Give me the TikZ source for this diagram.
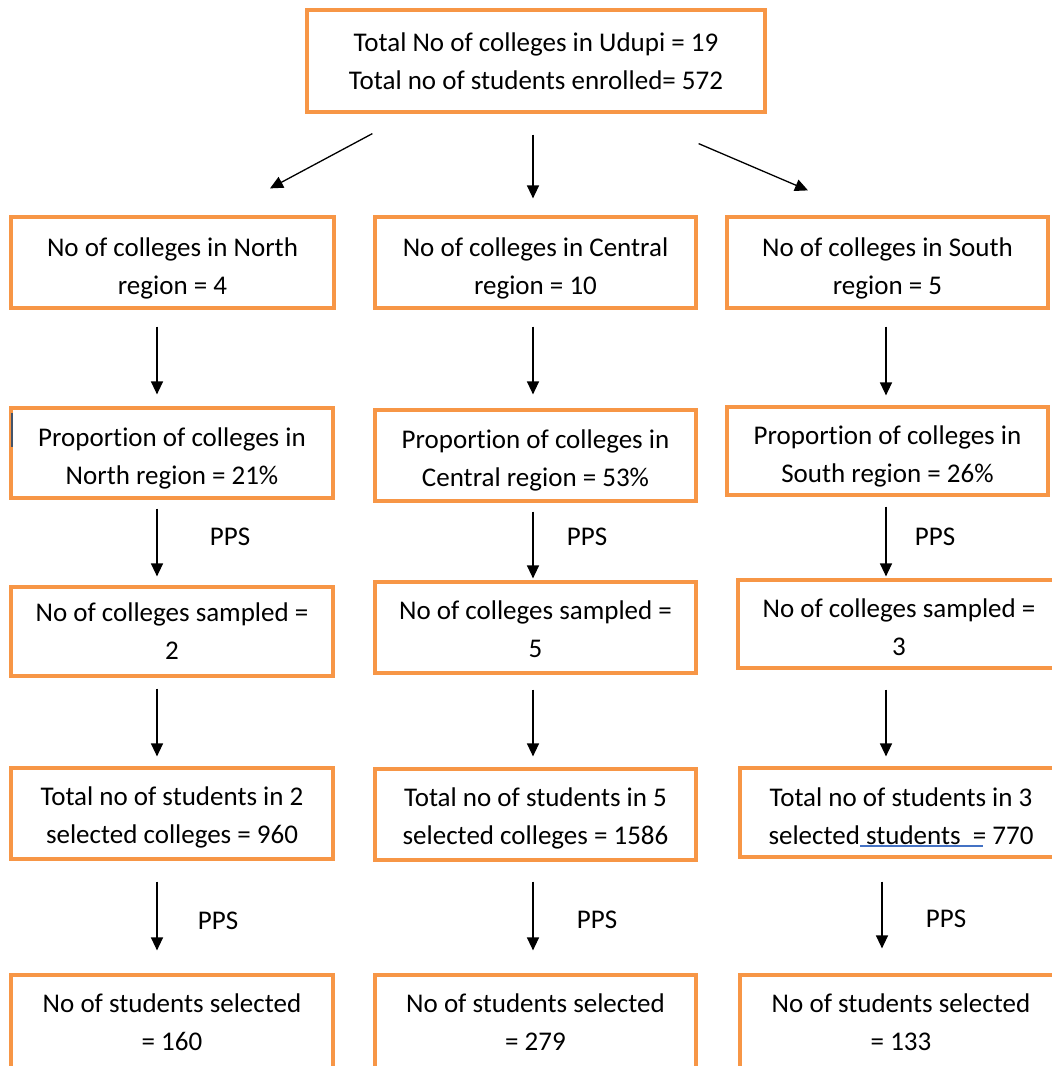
\documentclass[tikz,border=0pt]{standalone}
\usepackage{fontspec}
\setmainfont{Carlito}[Ligatures=NoCommon]
\usetikzlibrary{arrows.meta,calc}
\definecolor{boxor}{HTML}{F79646}
\definecolor{spell}{HTML}{4472C4}
\definecolor{cursor}{HTML}{44546A}
\newcommand\flowbox[7]{%
  \node[box, minimum width=#4pt, minimum height=#5pt] (#1) at (#2,#3) {};
  \node[txt] (#1-t) at ($(#1.center)+(0,#6)$) {#7};
}
\begin{document}
\begin{tikzpicture}[x=1pt,y=-1pt,
  box/.style={draw=boxor, line width=3.2pt, fill=white, inner sep=0pt},
  txt/.style={align=center, inner sep=0pt, font=\fontsize{27pt}{38pt}\selectfont, text=black},
  arr/.style={line width=1.3pt, -{Triangle[width=12pt,length=13pt]}},
  lbl/.style={font=\fontsize{27pt}{30pt}\selectfont, text=black, inner sep=0pt}]
\clip (0,0) rectangle (1052,1066);
\fill[white] (0,0) rectangle (1052,1066);
% top
\flowbox{T}{536}{61}{458}{102}{0}{Total No of colleges in Udupi = 19\\Total no of students enrolled= 572}
% row 1
\flowbox{N1}{172.5}{262.5}{323}{91}{6}{No of colleges in North\\region = 4}
\flowbox{C1}{535.5}{262.5}{321}{91}{6}{No of colleges in Central\\region = 10}
\flowbox{S1}{887.5}{262.5}{321}{91}{6}{No of colleges in South\\region = 5}
% row 2
\flowbox{N2}{172}{453}{322}{90}{5}{Proportion of colleges in\\North region = 21\%}
\flowbox{C2}{535.5}{455.5}{321}{91}{5}{Proportion of colleges in\\Central region = 53\%}
\flowbox{S2}{887.5}{451}{321}{88}{5}{Proportion of colleges in\\South region = 26\%}
% row 3
\flowbox{N3}{172}{631.5}{322}{89}{0}{No of colleges sampled =\\2}
\flowbox{C3}{535.5}{627.5}{321}{91}{2}{No of colleges sampled =\\5}
\flowbox{S3}{899}{624}{322}{88}{3}{No of colleges sampled =\\3}
% row 4
\flowbox{N4}{172}{813.5}{322}{91}{4}{Total no of students in 2\\selected colleges = 960}
\flowbox{C4}{535.5}{814.5}{321}{91}{4}{Total no of students in 5\\selected colleges = 1586}
\flowbox{S4}{901}{812.5}{322}{89}{4}{Total no of students in 3\\selected students\ \ = 770}
% row 5
\flowbox{N5}{172}{1021.5}{322}{93}{1}{No of students selected\\= 160}
\flowbox{C5}{535.5}{1021.5}{321}{93}{1}{No of students selected\\= 279}
\flowbox{S5}{901}{1021.5}{322}{93}{1}{No of students selected\\= 133}
% spell-check underline and cursor mark
\draw[spell, line width=1.4pt] (860,846) -- (983,846);
\draw[cursor, line width=1.2pt] (12,413) -- (12,447);
% arrow columns
\coordinate (xN) at (157,0);
\coordinate (xC) at (533,0);
\coordinate (xS) at (886,0);
\coordinate (xS2) at (882,0);
% top arrows
\coordinate (tl1) at ($(T.south west)+(67,20)$);
\coordinate (tl2) at ($(N1.north)+(97.5,-27)$);
\coordinate (tr1) at ($(T.south east)+(-68,30)$);
\coordinate (tr2) at ($(S1.north)+(-79.5,-25)$);
\draw[arr] (tl1) -- (tl2);
\draw[arr, shorten <=21pt, shorten >=17pt] (T.south -| xC) -- (C1.north -| xC);
\draw[arr] (tr1) -- (tr2);
% north column
\draw[arr, shorten <=17pt, shorten >=12pt] (N1.south -| xN) -- (N2.north -| xN);
\draw[arr, shorten <=9pt, shorten >=9pt] (N2.south -| xN) -- (N3.north -| xN);
\draw[arr, shorten <=11pt, shorten >=10pt] (N3.south -| xN) -- (N4.north -| xN);
\draw[arr, shorten <=21pt, shorten >=23pt] (N4.south -| xN) -- (N5.north -| xN);
% central column
\draw[arr, shorten <=17pt, shorten >=14pt] (C1.south -| xC) -- (C2.north -| xC);
\draw[arr, shorten <=9pt, shorten >=2pt] (C2.south -| xC) -- (C3.north -| xC);
\draw[arr, shorten <=15pt, shorten >=11pt] (C3.south -| xC) -- (C4.north -| xC);
\draw[arr, shorten <=20pt, shorten >=23pt] (C4.south -| xC) -- (C5.north -| xC);
% south column
\draw[arr, shorten <=17pt, shorten >=10pt] (S1.south -| xS) -- (S2.north -| xS);
\draw[arr, shorten <=10pt, shorten >=2pt] (S2.south -| xS) -- (S3.north -| xS);
\draw[arr, shorten <=20pt, shorten >=10pt] (S3.south -| xS) -- (S4.north -| xS);
\draw[arr, shorten <=23pt, shorten >=25pt] (S4.south -| xS2) -- (S5.north -| xS2);
% PPS labels
\node[lbl] (p1) at (230,537) {PPS};
\node[lbl] (p2) at (587,537) {PPS};
\node[lbl] (p3) at (935,537) {PPS};
\node[lbl] (p4) at (218,921) {PPS};
\node[lbl] (p5) at (597,920) {PPS};
\node[lbl] (p6) at (946,919) {PPS};
\end{tikzpicture}
\end{document}
